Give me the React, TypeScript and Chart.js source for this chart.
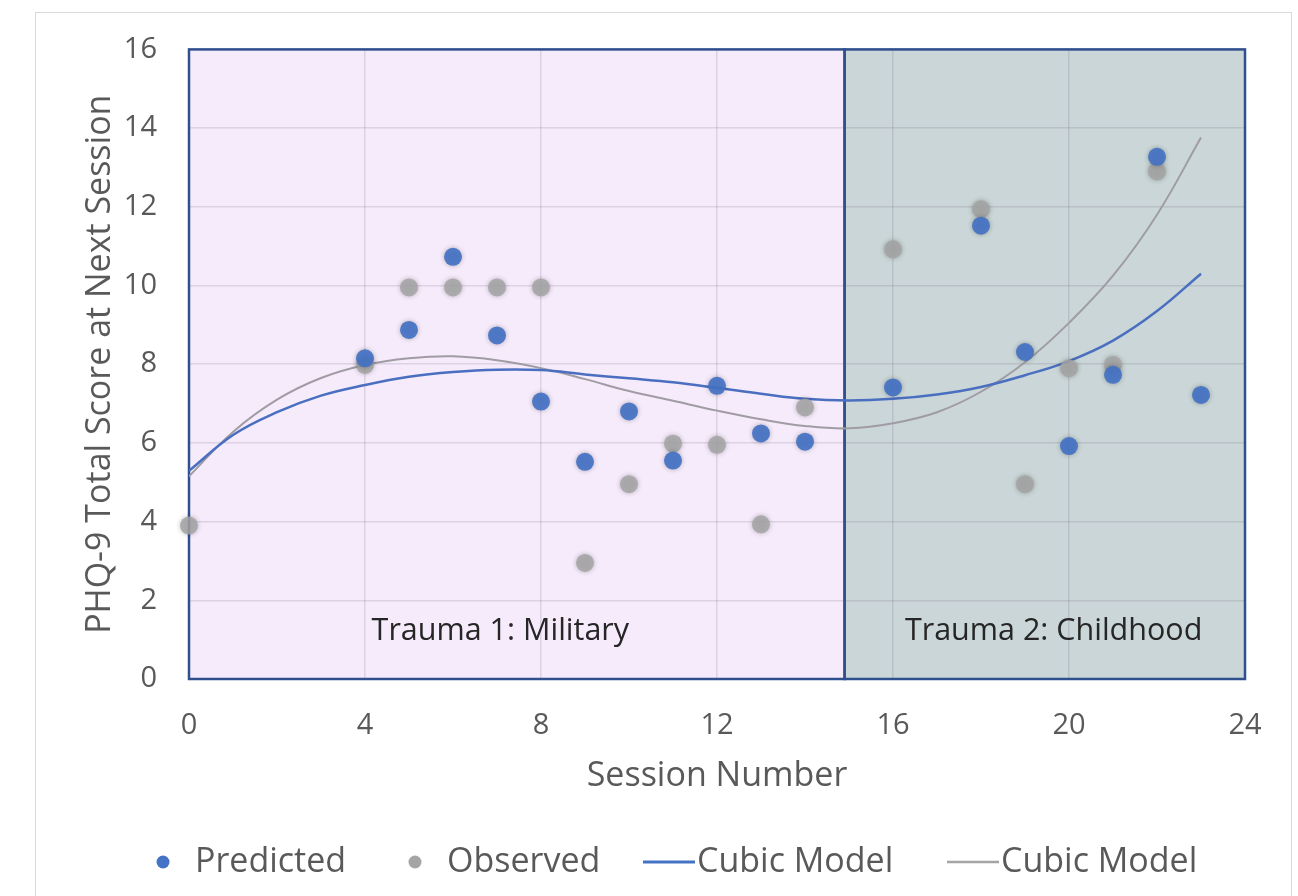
import React, { useEffect, useRef } from "react";
import { Chart, registerables } from "chart.js";

Chart.register(...registerables);

// ---- data ----
const predictedSessions = [4, 5, 6, 7, 8, 9, 10, 11, 12, 13, 14, 16, 18, 19, 20, 21, 22, 23];
const predictedScores = [8.15, 8.87, 10.73, 8.73, 7.05, 5.52, 6.8, 5.55, 7.45, 6.24, 6.03, 7.41, 11.52, 8.31, 5.92, 7.73, 13.27, 7.22];

const observedSessions = [0, 4, 5, 6, 7, 8, 9, 10, 11, 12, 13, 14, 16, 18, 19, 20, 21, 22];
const observedScores = [3.9, 7.98, 9.95, 9.95, 9.95, 9.95, 2.95, 4.95, 5.98, 5.95, 3.93, 6.9, 10.92, 11.94, 4.95, 7.9, 7.98, 12.9];

const curveSessions = [0, 1, 2, 3, 4, 5, 6, 7, 8, 9, 10, 11, 12, 13, 14, 15, 16, 17, 18, 19, 20, 21, 22, 23];
const predictedCubic = [5.29, 6.2, 6.78, 7.2, 7.47, 7.68, 7.8, 7.86, 7.85, 7.74, 7.64, 7.54, 7.4, 7.25, 7.12, 7.08, 7.12, 7.23, 7.42, 7.72, 8.08, 8.6, 9.35, 10.3];
const observedCubic = [5.15, 6.28, 7.1, 7.65, 7.98, 8.15, 8.2, 8.1, 7.9, 7.62, 7.32, 7.07, 6.82, 6.6, 6.43, 6.37, 6.5, 6.78, 7.3, 8.05, 9.05, 10.25, 11.8, 13.76];

const legendLabels = ["Predicted", "Observed", "Cubic Model", "Cubic Model"];
const regionLabels = ["Trauma 1: Military", "Trauma 2: Childhood"];
const regionBounds = [0, 14.9, 24];
const regionLabelX = [4.15, 16.27];
const regionLabelY = 1.2;

const X_MIN = 0, X_MAX = 24, X_STEP = 4;
const Y_MIN = 0, Y_MAX = 16, Y_STEP = 2;

const BLUE = "rgba(68,114,196,0.92)";
const GRAY = "rgba(165,165,165,0.85)";
const BLUE_LINE = "#4A6FC0";
const GRAY_LINE = "#A09CA3";
const FONT = "'Open Sans', 'Noto Sans', sans-serif";

const toPoints = (xs: number[], ys: number[]) => xs.map((x, i) => ({ x, y: ys[i] }));

const decorPlugin = {
  id: "decor",
  beforeDraw(chart: any) {
    const { ctx, scales } = chart;
    const x = scales.x, y = scales.y;
    ctx.save();
    ctx.fillStyle = "#ffffff";
    ctx.fillRect(0, 0, chart.width, chart.height);
    ctx.strokeStyle = "#D9D9D9";
    ctx.lineWidth = 1;
    ctx.strokeRect(35.5, 12.5, 1256, 900);
    const top = y.getPixelForValue(Y_MAX);
    const bottom = y.getPixelForValue(Y_MIN);
    const fills = ["#F6EBFB", "#CAD6D7"];
    for (let i = 0; i < fills.length; i++) {
      const l = x.getPixelForValue(regionBounds[i]);
      const r = x.getPixelForValue(regionBounds[i + 1]);
      ctx.fillStyle = fills[i];
      ctx.fillRect(l, top, r - l, bottom - top);
    }
    ctx.restore();
  },
  beforeDatasetsDraw(chart: any) {
    const { ctx, scales } = chart;
    const x = scales.x, y = scales.y;
    ctx.save();
    const top = y.getPixelForValue(Y_MAX);
    const bottom = y.getPixelForValue(Y_MIN);
    ctx.strokeStyle = "#2F4F8F";
    ctx.lineWidth = 2.5;
    for (let i = 0; i < regionBounds.length - 1; i++) {
      const l = x.getPixelForValue(regionBounds[i]);
      const r = x.getPixelForValue(regionBounds[i + 1]);
      ctx.strokeRect(l, top, r - l, bottom - top);
    }
    ctx.fillStyle = "#262626";
    ctx.font = `30.5px ${FONT}`;
    ctx.textBaseline = "middle";
    ctx.textAlign = "left";
    for (let i = 0; i < regionLabels.length; i++) {
      ctx.fillText(regionLabels[i], x.getPixelForValue(regionLabelX[i]), y.getPixelForValue(regionLabelY));
    }
    ctx.restore();
  },
  beforeDatasetDraw(chart: any, args: any) {
    const ds = chart.data.datasets[args.index];
    if (!ds.showLine) {
      chart.ctx.save();
      chart.ctx.shadowColor = "rgba(0,0,0,0.3)";
      chart.ctx.shadowBlur = 5;
    }
  },
  afterDatasetDraw(chart: any, args: any) {
    const ds = chart.data.datasets[args.index];
    if (!ds.showLine) chart.ctx.restore();
  },
  afterDraw(chart: any) {
    const { ctx } = chart;
    ctx.save();
    const cy = 862;
    ctx.font = `34px ${FONT}`;
    ctx.textBaseline = "middle";
    ctx.textAlign = "left";
    // Predicted
    ctx.fillStyle = "#4472C4";
    ctx.beginPath(); ctx.arc(163, cy, 6.5, 0, Math.PI * 2); ctx.fill();
    ctx.fillStyle = "#595959";
    ctx.fillText(legendLabels[0], 195, cy);
    // Observed
    ctx.fillStyle = "#A5A5A5";
    ctx.beginPath(); ctx.arc(415, cy, 6.5, 0, Math.PI * 2); ctx.fill();
    ctx.fillStyle = "#595959";
    ctx.fillText(legendLabels[1], 447, cy);
    // Cubic (blue)
    ctx.strokeStyle = "#4472C4"; ctx.lineWidth = 3;
    ctx.beginPath(); ctx.moveTo(643, cy); ctx.lineTo(695, cy); ctx.stroke();
    ctx.fillText(legendLabels[2], 697, cy);
    // Cubic (gray)
    ctx.strokeStyle = "#A5A5A5"; ctx.lineWidth = 2.5;
    ctx.beginPath(); ctx.moveTo(947, cy); ctx.lineTo(999, cy); ctx.stroke();
    ctx.fillText(legendLabels[3], 1001, cy);
    ctx.restore();
  },
};

export default function App() {
  const canvasRef = useRef<HTMLCanvasElement | null>(null);

  useEffect(() => {
    if (!canvasRef.current) return;
    const chart = new Chart(canvasRef.current, {
      type: "scatter",
      data: {
        datasets: [
          {
            label: legendLabels[0],
            data: toPoints(predictedSessions, predictedScores),
            backgroundColor: BLUE,
            borderWidth: 0,
            pointRadius: 9,
            clip: false,
            order: 0,
          },
          {
            label: legendLabels[1],
            data: toPoints(observedSessions, observedScores),
            backgroundColor: GRAY,
            borderWidth: 0,
            pointRadius: 9,
            clip: false,
            order: 1,
          },
          {
            label: legendLabels[2],
            data: toPoints(curveSessions, predictedCubic),
            showLine: true,
            borderColor: BLUE_LINE,
            borderWidth: 2.5,
            pointRadius: 0,
            tension: 0.4,
            order: 2,
          },
          {
            label: legendLabels[3],
            data: toPoints(curveSessions, observedCubic),
            showLine: true,
            borderColor: GRAY_LINE,
            borderWidth: 2,
            pointRadius: 0,
            tension: 0.4,
            order: 3,
          },
        ] as any,
      },
      plugins: [decorPlugin],
      options: {
        responsive: false,
        animation: false,
        layout: { padding: { left: 80, top: 45, right: 53, bottom: 99 } },
        plugins: { legend: { display: false }, tooltip: { enabled: false } },
        scales: {
          x: {
            type: "linear",
            min: X_MIN,
            max: X_MAX,
            border: { display: false },
            grid: { color: "rgba(110,100,125,0.18)", lineWidth: 1.5, drawTicks: false },
            ticks: { stepSize: X_STEP, padding: 29, color: "#595959", font: { family: FONT, size: 29 } },
            title: { display: true, text: "Session Number", color: "#595959", font: { family: FONT, size: 34 }, padding: 0 },
            afterFit: (s: any) => { s.height = 118; },
          },
          y: {
            type: "linear",
            min: Y_MIN,
            max: Y_MAX,
            border: { display: false },
            grid: { color: "rgba(110,100,125,0.18)", lineWidth: 1.5, drawTicks: false },
            ticks: { stepSize: Y_STEP, padding: 32, color: "#595959", font: { family: FONT, size: 29 } },
            title: { display: true, text: "PHQ-9 Total Score at Next Session", color: "#595959", font: { family: FONT, size: 34 }, padding: 0 },
            afterFit: (s: any) => { s.width = 109; },
          },
        },
      },
    });
    return () => chart.destroy();
  }, []);

  return (
    <div style={{ position: "fixed", left: 0, top: 0, width: 1298, height: 896, background: "#fff" }}>
      <canvas ref={canvasRef} width={1298} height={896} style={{ display: "block" }} />
    </div>
  );
}
